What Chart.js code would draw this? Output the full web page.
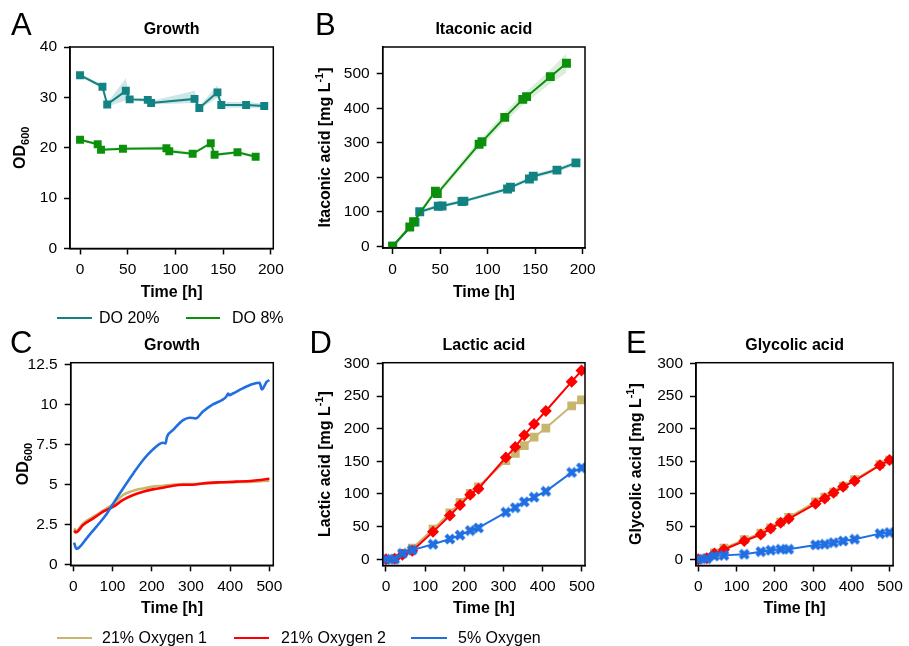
<!DOCTYPE html>
<html>
<head>
<meta charset="utf-8">
<script src="https://cdn.jsdelivr.net/npm/chart.js@4"></script>
<style>
  body { margin: 0; width: 909px; height: 646px; position: relative; background: #fff; overflow: hidden;
         font-family: "Liberation Sans", Arial, Helvetica, sans-serif; }
  canvas { position: absolute; left: 0; top: 0; }
  .leg-line { position: absolute; height: 2px; }
  .leg-text { position: absolute; font-size: 16px; line-height: 16px; color: #000; white-space: nowrap; }
</style>
</head>
<body>
<canvas id="cA" width="909" height="646"></canvas>
<canvas id="cB" width="909" height="646"></canvas>
<canvas id="cC" width="909" height="646"></canvas>
<canvas id="cD" width="909" height="646"></canvas>
<canvas id="cE" width="909" height="646"></canvas>

<div class="leg-line" style="left:57px;top:317px;width:35px;background:#128282"></div>
<div class="leg-text" style="left:99px;top:310px">DO 20%</div>
<div class="leg-line" style="left:186px;top:317px;width:34px;background:#0c900c"></div>
<div class="leg-text" style="left:232px;top:310px">DO 8%</div>

<div class="leg-line" style="left:57px;top:637px;width:35px;background:#c8b66e"></div>
<div class="leg-text" style="left:102px;top:630px">21% Oxygen 1</div>
<div class="leg-line" style="left:234px;top:637px;width:35px;background:#ff0000"></div>
<div class="leg-text" style="left:281px;top:630px">21% Oxygen 2</div>
<div class="leg-line" style="left:411px;top:637px;width:36px;background:#1f6fe3"></div>
<div class="leg-text" style="left:458px;top:630px">5% Oxygen</div>

<script>
// A / B: DO-controlled bioreactor runs
const tA20 = [0, 23.5, 28.5, 48, 52, 71, 74.5, 120, 125, 144, 148, 174, 193];
const odA20 = [34.4, 32.1, 28.6, 31.3, 29.6, 29.5, 28.9, 29.7, 27.9, 31.0, 28.5, 28.5, 28.3];
const odA20hi = [34.7, 32.5, 28.9, 33.8, 30.0, 29.8, 29.3, 31.3, 28.3, 32.4, 29.1, 29.1, 28.8];
const odA20lo = [34.1, 31.8, 28.2, 29.4, 29.2, 29.2, 28.6, 28.9, 27.6, 30.0, 28.0, 27.9, 27.9];
const tA8 = [0, 18.5, 22, 45, 90.5, 93.5, 118, 137, 141, 165, 184];
const odA8 = [21.6, 20.7, 19.6, 19.8, 19.9, 19.3, 18.8, 20.9, 18.6, 19.1, 18.2];
const odA8hi = [21.9, 21.0, 19.9, 20.1, 20.3, 19.9, 19.1, 21.2, 18.9, 19.4, 18.5];
const odA8lo = [21.3, 20.4, 19.3, 19.5, 19.6, 19.0, 18.5, 20.6, 18.3, 18.8, 17.9];

const tB20 = [0, 23.5, 28.5, 48, 52, 73, 75, 121, 124, 144, 148, 173, 193];
const itaB20 = [0, 70, 100, 116, 117, 130, 131, 166, 171, 195, 203, 221, 242];
const itaB20hi = [3, 75, 105, 121, 122, 135, 136, 171, 176, 201, 209, 227, 249];
const itaB20lo = [-3, 65, 95, 111, 112, 125, 126, 161, 166, 189, 197, 215, 235];
const tB8 = [0, 18, 22, 45, 47, 91, 94, 118, 137, 141, 166, 183];
const itaB8 = [0, 56, 71, 160, 153, 296, 303, 374, 426, 434, 492, 531];
const itaB8hi = [3, 61, 77, 168, 161, 308, 315, 388, 442, 450, 512, 559];
const itaB8lo = [-3, 51, 65, 152, 145, 284, 291, 360, 410, 418, 472, 503];

// C: online OD600, shake flasks
const tC1 = [2, 7, 25, 51, 76, 102, 127, 153, 178, 203, 229, 254, 280, 305, 330, 373, 415, 458, 500];
const odC1 = [2.28, 2.14, 2.59, 3.0, 3.38, 3.8, 4.36, 4.63, 4.77, 4.88, 4.94, 5.0, 5.04, 5.04, 5.08, 5.12, 5.17, 5.19, 5.25];
const odC2 = [2.14, 2.03, 2.49, 2.9, 3.32, 3.63, 4.05, 4.36, 4.56, 4.71, 4.81, 4.94, 5.0, 5.0, 5.08, 5.15, 5.19, 5.25, 5.37];
const tC5 = [2, 8, 17, 34, 59, 85, 102, 127, 153, 178, 203, 229, 235, 239, 254, 280, 297, 312, 330, 356, 381, 390, 395, 398, 407, 432, 458, 475, 481, 487, 493, 500];
const odC5 = [1.39, 1.0, 1.14, 1.66, 2.39, 3.17, 3.84, 4.77, 5.7, 6.54, 7.2, 7.61, 7.57, 7.99, 8.4, 9.02, 9.17, 9.13, 9.54, 10.0, 10.3, 10.48, 10.68, 10.58, 10.68, 11.0, 11.27, 11.35, 10.93, 11.14, 11.41, 11.51];

// D / E: organic acids, shake flasks
const tDE = [0, 22, 42, 67, 120, 163, 189, 215, 236, 306, 330, 353, 378, 408, 474, 499];
const lacO1 = [0, 1, 9, 17, 46, 71, 87, 101, 111, 151, 162, 174, 187, 201, 235, 244];
const lacO2 = [0, 1, 7, 13, 42, 67, 83, 99, 108, 156, 172, 190, 207, 227, 272, 289];
const lacO5 = [0, 0, 9, 14, 23, 31, 37, 44, 48, 72, 79, 88, 95, 104, 133, 140];
const glyO1 = [0, 2, 10, 17, 30, 40, 48, 57, 64, 88, 95, 103, 112, 122, 145, 152];
const glyO2 = [0, 1.5, 9, 15, 28, 38, 47, 56, 62, 85, 93, 102, 111, 120, 144, 152];
const glyO5 = [0, 1, 5, 6, 7.7, 11.7, 13.8, 15.3, 15.3, 22, 23, 25.5, 28, 30.6, 39.3, 41];

const TEAL = '#128282', GREEN = '#0c900c', TAN = '#c8b66e', RED = '#ff0000', BLUE = '#1f6fe3';
const FONT = '"Liberation Sans", Arial, Helvetica, sans-serif';
Chart.defaults.font.family = FONT;
Chart.defaults.color = '#000';

const pts = (xs, ys) => xs.map((x, i) => ({ x: x, y: ys[i] }));

function xMarker(color) {
  const c = document.createElement('canvas');
  c.width = c.height = 12;
  const g = c.getContext('2d');
  g.strokeStyle = color; g.lineWidth = 4;
  g.beginPath(); g.moveTo(2, 2); g.lineTo(10, 10); g.moveTo(10, 2); g.lineTo(2, 10); g.stroke();
  return c;
}

function line(data, color, marker, size) {
  const ds = { data: data, borderColor: color, backgroundColor: color, borderWidth: 2, fill: false,
               pointRadius: 0, pointBorderWidth: 0, pointBackgroundColor: color };
  if (marker === 'square') { ds.pointStyle = 'rect'; ds.pointRadius = size || 5.6; }
  if (marker === 'diamond') { ds.pointStyle = 'rectRot'; ds.pointRadius = size || 6; }
  if (marker === 'x') { ds.pointStyle = xMarker(color); ds.pointRadius = 6; }
  return ds;
}
function band(data, fillTo, color) {
  return { data: data, borderWidth: 0, pointRadius: 0, fill: fillTo === null ? false : fillTo,
           backgroundColor: color, borderColor: 'rgba(0,0,0,0)' };
}

function decoPlugin(d) {
  return {
    id: 'deco',
    afterDraw(chart) {
      const ctx = chart.ctx, a = chart.chartArea;
      ctx.save();
      ctx.strokeStyle = '#000'; ctx.lineWidth = 1.5;
      ctx.strokeRect(a.left, a.top, a.right - a.left, a.bottom - a.top);
      ctx.fillStyle = '#000';
      ctx.font = 'bold 16px ' + FONT;
      ctx.textAlign = 'center'; ctx.textBaseline = 'middle';
      ctx.fillText(d.title, (a.left + a.right) / 2, d.titleY);
      ctx.font = '31px ' + FONT;
      ctx.textAlign = 'left'; ctx.textBaseline = 'alphabetic';
      ctx.fillText(d.letter, d.letterX, d.letterY);
      // rotated y label with sub/superscript
      const fonts = { '0': 'bold 16px ' + FONT, '1': 'bold 11px ' + FONT, '-1': 'bold 11px ' + FONT };
      const shift = { '0': 0, '1': 4, '-1': -7 };
      let total = 0;
      const ws = d.yLabel.map(s => { ctx.font = fonts[s[1]]; const w = ctx.measureText(s[0]).width; total += w; return w; });
      ctx.translate(d.yLabelX, (a.top + a.bottom) / 2);
      ctx.rotate(-Math.PI / 2);
      let x = -total / 2;
      d.yLabel.forEach((s, i) => { ctx.font = fonts[s[1]]; ctx.fillText(s[0], x, shift[s[1]]); x += ws[i]; });
      ctx.restore();
    }
  };
}

const Y_W = 60;
function makePanel(id, box, xr, yr, xt, yt, datasets, d) {
  const xH = d.xTitleY + 8 - box.b;
  const tickOpts = { drawOnChartArea: false, tickLength: 6, tickWidth: 1.5, tickColor: '#000' };
  return new Chart(document.getElementById(id), {
    type: 'line',
    data: { datasets: datasets },
    options: {
      responsive: false, animation: false, events: [],
      layout: { padding: { left: box.l - Y_W, top: box.t, right: 909 - box.r, bottom: 646 - box.b - xH } },
      scales: {
        x: {
          type: 'linear', min: xr[0], max: xr[1],
          afterBuildTicks: s => { s.ticks = xt.map(v => ({ value: v })); },
          afterFit: s => { s.height = xH; },
          grid: tickOpts, border: { color: '#000', width: 1.5 },
          ticks: { font: { size: 15.5 }, color: '#000', padding: 6, maxRotation: 0, autoSkip: false, callback: v => String(v) },
          title: { display: true, text: 'Time [h]', color: '#000', padding: 0, font: { size: 16, weight: 'bold', lineHeight: 1 } }
        },
        y: {
          type: 'linear', min: yr[0], max: yr[1],
          afterBuildTicks: s => { s.ticks = yt.map(v => ({ value: v })); },
          afterFit: s => { s.width = Y_W; },
          grid: tickOpts, border: { color: '#000', width: 1.5 },
          ticks: { font: { size: 15.5 }, color: '#000', padding: 7, autoSkip: false, callback: v => String(v) }
        }
      },
      plugins: { legend: { display: false }, tooltip: { enabled: false } }
    },
    plugins: [decoPlugin(d)]
  });
}

const TEAL_BAND = 'rgba(18,130,130,0.2)', GREEN_BAND = 'rgba(12,144,12,0.15)';

makePanel('cA', { l: 70, t: 47, r: 273.3, b: 248.5 }, [-10.5, 202.5], [0, 40],
  [0, 50, 100, 150, 200], [0, 10, 20, 30, 40],
  [line(pts(tA20, odA20), TEAL, 'square'), line(pts(tA8, odA8), GREEN, 'square'),
   band(pts(tA20, odA20lo), null, TEAL_BAND), band(pts(tA20, odA20hi), 2, TEAL_BAND),
   band(pts(tA8, odA8lo), null, GREEN_BAND), band(pts(tA8, odA8hi), 4, GREEN_BAND)],
  { title: 'Growth', titleY: 30, letter: 'A', letterX: 11, letterY: 35, xTitleY: 292.5,
    yLabel: [['OD', 0], ['600', 1]], yLabelX: 25 });

makePanel('cB', { l: 382.7, t: 47, r: 585, b: 248 }, [-10.5, 202.5], [-5, 578],
  [0, 50, 100, 150, 200], [0, 100, 200, 300, 400, 500],
  [line(pts(tB8, itaB8), GREEN, 'square', 6.3), line(pts(tB20, itaB20), TEAL, 'square', 6.3),
   band(pts(tB20, itaB20lo), null, TEAL_BAND), band(pts(tB20, itaB20hi), 2, TEAL_BAND),
   band(pts(tB8, itaB8lo), null, GREEN_BAND), band(pts(tB8, itaB8hi), 4, GREEN_BAND)],
  { title: 'Itaconic acid', titleY: 30, letter: 'B', letterX: 315, letterY: 35, xTitleY: 292.5,
    yLabel: [['Itaconic acid [mg L', 0], ['-1', -1], [']', 0]], yLabelX: 330 });

const cLine = (d, c) => Object.assign(line(d, c, null), { cubicInterpolationMode: 'monotone', borderWidth: 2.6 });
makePanel('cC', { l: 70.7, t: 362.7, r: 273.3, b: 565.3 }, [-6.6, 510], [-0.02, 12.6],
  [0, 100, 200, 300, 400, 500], [0, 2.5, 5, 7.5, 10, 12.5],
  [cLine(pts(tC5, odC5), BLUE), cLine(pts(tC1, odC2), RED), cLine(pts(tC1, odC1), TAN)],
  { title: 'Growth', titleY: 346, letter: 'C', letterX: 10, letterY: 353, xTitleY: 608.5,
    yLabel: [['OD', 0], ['600', 1]], yLabelX: 28.3 });

makePanel('cD', { l: 382.7, t: 362.7, r: 585, b: 565.5 }, [-8.4, 508], [-9.5, 301],
  [0, 100, 200, 300, 400, 500], [0, 50, 100, 150, 200, 250, 300],
  [line(pts(tDE, lacO5), BLUE, 'x'), line(pts(tDE, lacO2), RED, 'diamond'), line(pts(tDE, lacO1), TAN, 'square', 6.2)],
  { title: 'Lactic acid', titleY: 345.5, letter: 'D', letterX: 309.5, letterY: 353, xTitleY: 608.5,
    yLabel: [['Lactic acid [mg L', 0], ['-1', -1], [']', 0]], yLabelX: 330 });

makePanel('cE', { l: 696, t: 362.7, r: 897.3, b: 565.5 }, [-6, 508.4], [-9.5, 301],
  [0, 100, 200, 300, 400, 500], [0, 50, 100, 150, 200, 250, 300],
  [line(pts(tDE, glyO5), BLUE, 'x'), line(pts(tDE, glyO2), RED, 'diamond'), line(pts(tDE, glyO1), TAN, 'square', 6.2)],
  { title: 'Glycolic acid', titleY: 345.5, letter: 'E', letterX: 626, letterY: 353, xTitleY: 608.5,
    yLabel: [['Glycolic acid [mg L', 0], ['-1', -1], [']', 0]], yLabelX: 641 });
</script>
</body>
</html>
